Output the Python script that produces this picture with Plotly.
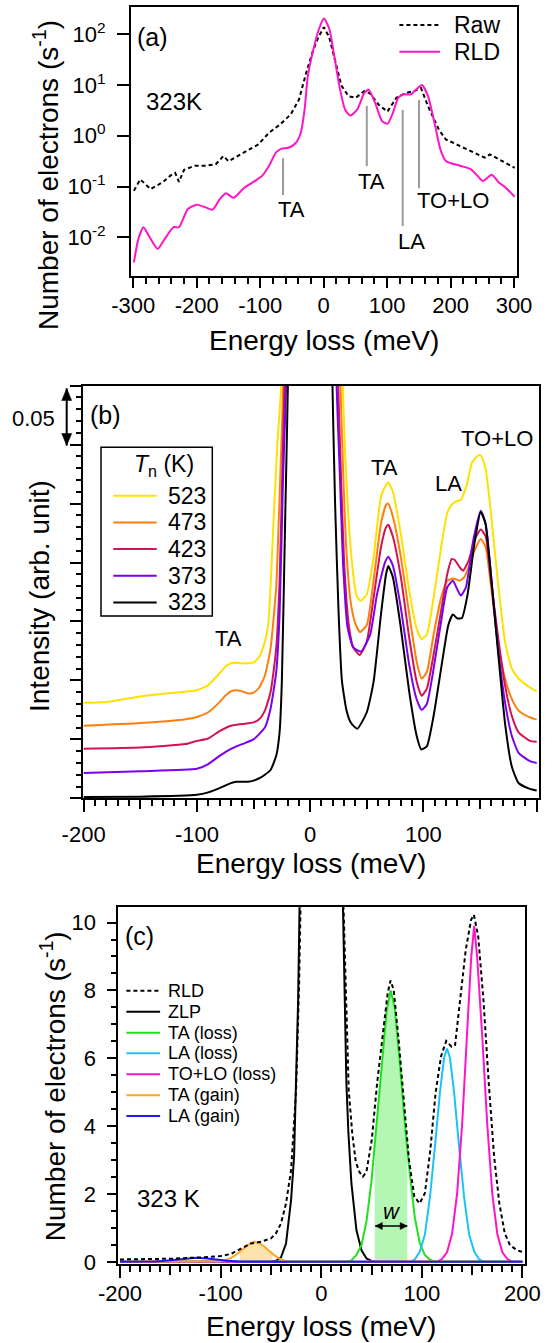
import numpy as np
import plotly.graph_objects as go

W, H = 554, 1343
FONT = "Liberation Sans, Arial, Helvetica, sans-serif"

# ---------------- Panel (a): log-scale spectra at 323 K ----------------
a_rld_x = [-299, -292, -284, -275.5, -261.6, -250.4, -236.5, -228, -214, -200, -186.4, -175, -164, -154,
           -142, -125, -108, -97, -86, -75, -66.6, -55.5, -44, -36, -30, -25, -16.4, -8, 0.3, 8.6, 17, 25,
           33.7, 42, 53, 64, 71, 81, 92, 100.5, 109, 117.5, 126, 137, 148, 155, 164.6, 175.8, 184, 192.5,
           214.8, 231.6, 242.6, 251, 265, 276, 287, 301]
a_rld_y = [0.0032, 0.0093, 0.0158, 0.0107, 0.0059, 0.0093, 0.0158, 0.0158, 0.036, 0.044, 0.039, 0.035,
           0.056, 0.074, 0.060, 0.095, 0.129, 0.162, 0.257, 0.47, 0.56, 0.58, 0.72, 1.15, 3.3, 14.8, 49,
           120, 204, 132, 36, 9.3, 3.3, 2.5, 3.3, 6.9, 8.1, 4.5, 1.95, 1.72, 2.8, 5.6, 6.6, 6.5, 8.7, 10.0,
           6.0, 1.55, 0.54, 0.32, 0.257, 0.22, 0.162, 0.129, 0.17, 0.12, 0.095, 0.063]
a_raw_x = [-299, -289, -281, -273, -264, -253, -242, -234, -228, -220, -203, -186, -170, -158, -150, -136,
           -119, -103, -86, -69, -52, -39, -27.5, -16.4, -8, 0.3, 8.6, 19.8, 28, 39.3, 50.4, 64, 72.7,
           86.7, 100.5, 114.7, 128, 142.5, 153.5, 164.6, 181.6, 192.5, 214.8, 237, 253.8, 262, 276, 301]
a_raw_y = [0.083, 0.138, 0.112, 0.089, 0.102, 0.123, 0.162, 0.186, 0.123, 0.214, 0.257, 0.257, 0.275,
           0.398, 0.316, 0.398, 0.537, 0.676, 1.15, 1.66, 2.63, 5.13, 17.4, 49, 89, 138, 89, 23.4, 9.8,
           6.0, 5.6, 7.6, 6.9, 4.1, 3.0, 5.6, 6.9, 7.6, 8.7, 3.8, 1.32, 0.85, 0.63, 0.47, 0.37, 0.43,
           0.35, 0.234]
a_mode_names = ["TA", "TA", "LA", "TO+LO"]
a_mode_x = [-64, 68, 124.6, 150.3]
a_mode_top = [0.36, 3.87, 3.22, 5.07]
a_mode_bottom = [0.068, 0.254, 0.0167, 0.093]
a_label_x = [-50.8, 76.2, 138.9, 203.6]
a_label_y = [0.0347, 0.123, 0.0081, 0.0525]
a_xticks = [-300, -200, -100, 0, 100, 200, 300]
a_yticks = [0.01, 0.1, 1, 10, 100]
a_ytext = ["10<sup>-2</sup>", "10<sup>-1</sup>", "10<sup>0</sup>", "10<sup>1</sup>", "10<sup>2</sup>"]

# ---------------- Panel (b): temperature series ----------------
b_temps = [523, 473, 423, 373, 323]
b_colors = ["#ffe100", "#ff7f0e", "#d11450", "#7a00ee", "#000000"]
b_x = {
    523: [-200, -180, -150, -120, -100, -90, -80, -75, -70, -65, -60, -55, -50, -45, -40, -37, -35, -32,
          -29, -25, 0, 28.5, 31, 34, 38, 41, 44.4, 50, 56, 62.5, 67, 69, 73, 80, 87.5, 94, 98.4, 103, 109,
          115.6, 121, 125, 128, 133, 138, 143, 148, 150.6, 155, 159, 165.6, 172, 178, 184, 194, 200],
    473: [-200, -150, -110, -100, -90, -80, -75, -70, -65, -60, -55, -50, -45, -40, -35, -30, -27, -23.5, 0,
          26.5, 29, 32, 36, 40, 44, 50, 56, 62.5, 67, 69, 73, 80, 87.5, 94, 98.4, 103, 109, 115.6, 121,
          125, 128, 132, 136, 140, 145, 150.6, 155, 159, 165.6, 172, 178, 184, 194, 200],
    423: [-200, -150, -110, -100, -90, -80, -70, -60, -50, -45, -40, -35, -30, -27, -24, -22.5, 0, 24.5, 27,
          30, 34, 38, 43.75, 50, 56, 62.5, 67, 69, 73, 80, 87.5, 94, 98.4, 103, 109, 115.6, 121, 125, 128,
          132, 135, 140, 145, 150.6, 155, 159, 165.6, 172, 178, 184, 194, 200],
    373: [-200, -150, -100, -90, -80, -70, -60, -50, -40, -35, -30, -27, -24, -21, 0, 23, 26, 29, 33, 38,
          45, 53, 59, 66, 69, 73, 80, 87.5, 94, 98.4, 103, 109, 115.6, 121, 126, 130, 133, 137.5, 144,
          150.6, 155, 159, 165.6, 172, 178, 184, 194, 200],
    323: [-200, -150, -100, -90, -80, -70, -65, -55, -50, -45, -40, -35, -30, -27, -25, -22, -19.5, 0, 19.5,
          22, 25, 28, 32, 36, 41.6, 50, 56, 62.5, 67, 69, 73, 79.7, 87.5, 94, 98, 103, 109, 115.6, 122,
          126, 130, 134, 139, 145, 150.6, 154.7, 159, 165.6, 172, 178, 184, 194, 200],
}
b_y = {
    523: [0.081, 0.0816, 0.0864, 0.0896, 0.0916, 0.096, 0.106, 0.1116, 0.1145, 0.115, 0.1145, 0.1145,
          0.1153, 0.120, 0.133, 0.147, 0.179, 0.242, 0.30, 0.36, 2.0, 0.36, 0.29, 0.235, 0.19, 0.172,
          0.1674, 0.173, 0.2046, 0.256, 0.266, 0.268, 0.260, 0.2246, 0.176, 0.144, 0.135, 0.139, 0.170,
          0.213, 0.242, 0.249, 0.2514, 0.2533, 0.265, 0.285, 0.2905, 0.291, 0.279, 0.2475, 0.185, 0.133,
          0.110, 0.1016, 0.094, 0.0907],
    473: [0.0615, 0.0638, 0.067, 0.069, 0.073, 0.0816, 0.087, 0.0907, 0.0916, 0.0907, 0.089, 0.0896, 0.094,
          0.104, 0.127, 0.179, 0.256, 0.36, 2.0, 0.36, 0.28, 0.21, 0.165, 0.148, 0.141, 0.147, 0.185,
          0.233, 0.249, 0.250, 0.239, 0.205, 0.156, 0.116, 0.1016, 0.107, 0.139, 0.170, 0.1846, 0.186,
          0.186, 0.1846, 0.1875, 0.196, 0.210, 0.220, 0.213, 0.185, 0.133, 0.1016, 0.0844, 0.0744,
          0.0687, 0.0667],
    423: [0.042, 0.043, 0.046, 0.0487, 0.0507, 0.057, 0.0615, 0.063, 0.0644, 0.067, 0.0744, 0.090, 0.127,
          0.185, 0.30, 0.36, 2.0, 0.36, 0.28, 0.20, 0.148, 0.128, 0.1216, 0.133, 0.170, 0.213, 0.230,
          0.232, 0.222, 0.188, 0.136, 0.099, 0.087, 0.093, 0.122, 0.159, 0.190, 0.203, 0.2018, 0.196,
          0.193, 0.2018, 0.219, 0.228, 0.222, 0.190, 0.139, 0.096, 0.070, 0.056, 0.0487, 0.048],
    373: [0.0215, 0.023, 0.025, 0.029, 0.036, 0.042, 0.046, 0.050, 0.060, 0.076, 0.107, 0.156, 0.27, 0.36,
          2.0, 0.36, 0.28, 0.20, 0.145, 0.128, 0.1245, 0.139, 0.173, 0.200, 0.205, 0.1975, 0.162, 0.113,
          0.084, 0.075, 0.080, 0.110, 0.150, 0.179, 0.1845, 0.177, 0.172, 0.179, 0.219, 0.244, 0.233,
          0.196, 0.130, 0.0816, 0.053, 0.0386, 0.0315, 0.030],
    323: [0.001, 0.0014, 0.003, 0.005, 0.0086, 0.0129, 0.014, 0.014, 0.015, 0.017, 0.020, 0.024, 0.036,
          0.056, 0.099, 0.24, 0.36, 2.0, 0.36, 0.25, 0.16, 0.10, 0.075, 0.064, 0.059, 0.073, 0.099, 0.156,
          0.19, 0.197, 0.1875, 0.147, 0.090, 0.053, 0.0415, 0.044, 0.070, 0.110, 0.147, 0.156, 0.1525,
          0.153, 0.173, 0.216, 0.243, 0.233, 0.196, 0.127, 0.064, 0.027, 0.013, 0.008, 0.0066],
}
b_label_names = ["TA", "TA", "LA", "TO+LO"]
b_label_x = [-72, 66, 122.4, 164.8]
b_label_y = [0.1353, 0.2804, 0.267, 0.3056]
b_xticks = [-200, -100, 0, 100, 200]
b_xmid_ticks = [-150, -50, 50, 150]

# ---------------- Panel (c): decomposition at 323 K ----------------
c_rld_x = [-200, -150, -120, -100, -90, -80, -70, -60, -50, -45, -40, -35, -30, -25, -22, -20.5, 0, 22,
           27.3, 30.8, 34.3, 37.9, 41.4, 44.9, 50.2, 55.5, 60.8, 66, 68.9, 72, 76.6, 82, 87.2, 92.5, 97.8,
           103, 108.4, 113.6, 119, 124.2, 129.5, 133, 138.3, 143.6, 148.9, 151.7, 156, 161.2, 166.5, 171.8,
           177, 182.4, 187.6, 194.7, 200]
c_rld_y = [0.07, 0.09, 0.13, 0.17, 0.23, 0.39, 0.54, 0.59, 0.69, 0.84, 1.13, 1.72, 2.70, 5.06, 8.2, 10.6,
           200, 10.6, 5.06, 3.79, 2.95, 2.65, 2.51, 2.65, 3.59, 5.26, 6.64, 7.92, 8.29, 8.01, 6.64, 4.67,
           3.0, 1.92, 1.72, 2.02, 3.29, 4.97, 6.05, 6.51, 6.34, 6.39, 7.72, 9.19, 10.08, 10.23, 9.59, 7.72,
           5.26, 3.10, 1.72, 0.84, 0.49, 0.34, 0.29]
c_zlp_x = [-200, -60, -50, -45, -40, -35, -30, -27, -25, -23, -21.5, 0, 21.5, 23, 25, 27, 30, 35, 40, 45,
           50, 55, 200]
c_zlp_y = [0, 0, 0, 0.03, 0.13, 0.54, 1.82, 3.1, 5.06, 7.7, 10.6, 200, 10.6, 7.7, 5.26, 3.79, 2.31, 0.93,
           0.34, 0.1, 0.02, 0, 0]
c_ta_loss_x = [-200, 25, 30, 35, 40, 45, 50, 55, 60, 65, 69, 73, 78, 83, 88, 93, 98, 103, 108, 113, 200]
c_ta_loss_y = [0, 0, 0.04, 0.2, 0.5, 1.2, 2.4, 4.05, 5.85, 7.4, 8.0, 7.5, 5.9, 4.1, 2.6, 1.3, 0.55, 0.2,
               0.06, 0, 0]
c_la_loss_x = [-200, 88, 93, 98, 103, 108, 113, 118, 122, 125, 128, 132, 137, 142, 147, 152, 157, 162, 200]
c_la_loss_y = [0, 0, 0.07, 0.3, 0.8, 1.9, 3.4, 5.0, 6.0, 6.29, 6.0, 5.0, 3.4, 1.9, 0.8, 0.3, 0.07, 0, 0]
c_tolo_loss_x = [-200, 115, 120, 125, 130, 135, 140, 145, 149, 152, 155, 160, 165, 170, 175, 180, 185,
                 190, 200]
c_tolo_loss_y = [0, 0, 0.08, 0.28, 0.82, 2.0, 4.04, 6.65, 8.96, 9.9, 8.96, 6.65, 4.04, 2.0, 0.82, 0.28,
                 0.08, 0, 0]
c_ta_gain_x = [-200, -105, -100, -95, -90, -85, -80, -75, -70, -66, -62, -57, -52, -47, -42, -37, -32,
               -27, 200]
c_ta_gain_y = [0, 0, 0.02, 0.05, 0.11, 0.2, 0.32, 0.45, 0.56, 0.59, 0.56, 0.46, 0.33, 0.2, 0.1, 0.04,
               0.01, 0, 0]
c_la_gain_x = [-200, -175, -165, -155, -145, -135, -124, -113, -103, -93, -83, -73, 200]
c_la_gain_y = [0, 0, 0.01, 0.03, 0.06, 0.1, 0.12, 0.1, 0.06, 0.03, 0.01, 0, 0]
c_w_bounds = [53.1, 85.5]        # shaded width w of TA (loss)
c_gain_bounds = [-81.0, -48.4]   # shaded TA (gain)
c_names = ["RLD", "ZLP", "TA (loss)", "LA (loss)", "TO+LO (loss)", "TA (gain)", "LA (gain)"]
c_colors = ["#000000", "#000000", "#1fe01f", "#18c4f5", "#ff14c8", "#ffa51a", "#1a1aff"]

# ---------------- helpers ----------------
def px(x, y):
    return x / W, 1 - y / H

def dom_x(l, r):
    return [l / W, r / W]

def dom_y(t, b):
    return [1 - b / H, 1 - t / H]

tickfont = dict(family=FONT, size=22, color="black")

def axis(**kw):
    d = dict(showline=True, linecolor="black", linewidth=2, mirror=True, ticks="outside",
             tickcolor="black", tickwidth=1.5, showgrid=False, zeroline=False, tickfont=tickfont)
    d.update(kw)
    return d

def minor(dt, ln):
    return dict(dtick=dt, tick0=0, ticklen=ln, ticks="outside", tickcolor="black", tickwidth=1.5,
                showgrid=False)

fig = go.Figure()

# panel (a)
fig.add_trace(go.Scatter(x=a_raw_x, y=a_raw_y, mode="lines", xaxis="x", yaxis="y",
                         line=dict(color="black", width=2, dash="4px,3px")))
fig.add_trace(go.Scatter(x=a_rld_x, y=a_rld_y, mode="lines", xaxis="x", yaxis="y",
                         line=dict(color="#ff14c8", width=2, shape="spline", smoothing=0.6)))
for mx, mt, mb in zip(a_mode_x, a_mode_top, a_mode_bottom):
    fig.add_trace(go.Scatter(x=[mx, mx], y=[mb, mt], mode="lines", xaxis="x", yaxis="y",
                             line=dict(color="#9a9a9a", width=2)))

# panel (b)
for t, c in zip(b_temps, b_colors):
    fig.add_trace(go.Scatter(x=b_x[t], y=b_y[t], mode="lines", xaxis="x2", yaxis="y2",
                             line=dict(color=c, width=2, shape="spline", smoothing=0.5)))

# panel (c) fills
wx = np.linspace(c_w_bounds[0], c_w_bounds[1], 40)
fig.add_trace(go.Scatter(x=wx, y=np.interp(wx, c_ta_loss_x, c_ta_loss_y), mode="lines", fill="tozeroy",
                         fillcolor="#b4f7b4", line=dict(width=0), xaxis="x3", yaxis="y3"))
gx = np.linspace(c_gain_bounds[0], c_gain_bounds[1], 40)
fig.add_trace(go.Scatter(x=gx, y=np.interp(gx, c_ta_gain_x, c_ta_gain_y), mode="lines", fill="tozeroy",
                         fillcolor="#fde2ae", line=dict(width=0), xaxis="x3", yaxis="y3"))
comps = [(c_zlp_x, c_zlp_y), (c_ta_loss_x, c_ta_loss_y), (c_la_loss_x, c_la_loss_y),
         (c_tolo_loss_x, c_tolo_loss_y), (c_ta_gain_x, c_ta_gain_y), (c_la_gain_x, c_la_gain_y)]
for (cx, cy), col in zip(comps, c_colors[1:]):
    fig.add_trace(go.Scatter(x=cx, y=cy, mode="lines", xaxis="x3", yaxis="y3",
                             line=dict(color=col, width=2)))
fig.add_trace(go.Scatter(x=c_rld_x, y=c_rld_y, mode="lines", xaxis="x3", yaxis="y3",
                         line=dict(color="black", width=2, dash="4px,3px")))

# invisible anchor traces for the mid-tick overlay axes
fig.add_trace(go.Scatter(x=[0], y=[0.5], mode="markers", marker=dict(opacity=0), xaxis="x4", yaxis="y2",
                         hoverinfo="skip"))
fig.add_trace(go.Scatter(x=[0], y=[5], mode="markers", marker=dict(opacity=0), xaxis="x5", yaxis="y3",
                         hoverinfo="skip"))

b_dom = dom_x(83.3, 539.3)
b_rng = [-200.3, 202.3]
c_dom = dom_x(117.5, 525.3)
c_rng = [-202.5, 202.8]

fig.update_layout(
    xaxis=axis(domain=dom_x(131, 517.3), range=[-303.6, 305.2], anchor="y", tickmode="array",
               tickvals=a_xticks, ticktext=[str(v) for v in a_xticks], ticklen=10, ticklabelstandoff=-1,
               minor=minor(20, 6)),
    yaxis=axis(domain=dom_y(7.3, 276), type="log", range=[-2.763, 2.532], anchor="x", tickmode="array",
               tickvals=a_yticks, ticktext=a_ytext, ticklen=12, ticklabelstandoff=7),
    xaxis2=axis(domain=b_dom, range=b_rng, anchor="y2", tickmode="array",
                tickvals=b_xticks, ticktext=[str(v) for v in b_xticks], ticklen=12, ticklabelstandoff=3,
                minor=minor(10, 6)),
    xaxis4=dict(domain=b_dom, range=b_rng, anchor="y2", overlaying="x2", side="bottom", tickmode="array",
                tickvals=b_xmid_ticks, ticks="outside", ticklen=10, tickwidth=1.5, tickcolor="black",
                showticklabels=False, showline=False, showgrid=False, zeroline=False),
    yaxis2=axis(domain=dom_y(385.7, 798.3), range=[0, 0.35], anchor="x2", dtick=0.05, tick0=0,
                ticklen=11, showticklabels=False, minor=minor(0.01, 5)),
    xaxis3=axis(domain=c_dom, range=c_rng, anchor="y3", tickmode="array",
                tickvals=b_xticks, ticktext=[str(v) for v in b_xticks], ticklen=12, ticklabelstandoff=-3,
                minor=minor(10, 6)),
    xaxis5=dict(domain=c_dom, range=c_rng, anchor="y3", overlaying="x3", side="bottom", tickmode="array",
                tickvals=b_xmid_ticks, ticks="outside", ticklen=10, tickwidth=1.5, tickcolor="black",
                showticklabels=False, showline=False, showgrid=False, zeroline=False),
    yaxis3=axis(domain=dom_y(907.3, 1263.5), range=[-0.05, 10.45], anchor="x3", dtick=2, tick0=0,
                ticklen=9, ticklabelstandoff=6, minor=minor(0.5, 5)),
)

ann = []
shapes = []

def text(x, y, s, size=22, anchor="center", angle=0, **kw):
    X, Y = px(x, y)
    ann.append(dict(x=X, y=Y, xref="paper", yref="paper", text=s, showarrow=False, xanchor=anchor,
                    yanchor="middle", textangle=angle, font=dict(family=FONT, size=size, color="black"),
                    **kw))

def double_arrow(x0, y0, x1, y1, head_len, head_w, width):
    """Double-headed arrow drawn with paper-pixel coordinates."""
    P0 = px(x0, y0)
    P1 = px(x1, y1)
    dx, dy = x1 - x0, y1 - y0
    L = (dx * dx + dy * dy) ** 0.5
    ux, uy = dx / L, dy / L
    nx, ny = -uy, ux
    shapes.append(dict(type="line", xref="paper", yref="paper", x0=P0[0], y0=P0[1], x1=P1[0], y1=P1[1],
                       line=dict(color="black", width=width)))
    for (tx, ty, sgn) in [(x0, y0, 1), (x1, y1, -1)]:
        bx, by = tx + sgn * ux * head_len, ty + sgn * uy * head_len
        pts = [(tx, ty), (bx + nx * head_w / 2, by + ny * head_w / 2), (bx - nx * head_w / 2, by - ny * head_w / 2)]
        path = "M " + " L ".join("{:.6f},{:.6f}".format(*px(a, b)) for a, b in pts) + " Z"
        shapes.append(dict(type="path", xref="paper", yref="paper", path=path, fillcolor="black",
                           line=dict(color="black", width=0.5)))

# axis titles
text(324, 340, "Energy loss (meV)", 28)
text(46, 175, "Number of electrons (s<sup>-1</sup>)", 28, angle=-90)
text(311.3, 863, "Energy loss (meV)", 28)
text(40, 596, "Intensity (arb. unit)", 28, angle=-90)
text(321, 1326, "Energy loss (meV)", 28)
text(53.3, 1086, "Number of electrons (s<sup>-1</sup>)", 28, angle=-90)

# panel (a) annotations
text(152.5, 37, "(a)", 25)
text(174, 102, "323K", 24)
for n, lx, ly in zip(a_mode_names, a_label_x, a_label_y):
    ann.append(dict(x=lx, y=np.log10(ly), xref="x", yref="y", text=n, showarrow=False,
                    font=dict(family=FONT, size=22, color="black")))
for yy, dash, col, name in [(25, "dot", "black", "Raw"), (51.7, "solid", "#ff14c8", "RLD")]:
    x0, y0 = px(399.4, yy)
    x1, _ = px(440, yy)
    shapes.append(dict(type="line", xref="paper", yref="paper", x0=x0, x1=x1, y0=y0, y1=y0,
                       line=dict(color=col, width=2, dash="4px,3px" if dash == "dot" else "solid")))
    text(451.5, yy, name, 23, anchor="left")

# panel (b) annotations
text(105, 415, "(b)", 25)
text(33, 418, "0.05", 22)
double_arrow(66.7, 388.5, 66.7, 445.5, 12, 10, 2)
for n, lx, ly in zip(b_label_names, b_label_x, b_label_y):
    ann.append(dict(x=lx, y=ly, xref="x2", yref="y2", text=n, showarrow=False,
                    font=dict(family=FONT, size=22, color="black")))
bx0, by0 = px(101, 447.3)
bx1, by1 = px(212.3, 616)
shapes.append(dict(type="rect", xref="paper", yref="paper", x0=bx0, x1=bx1, y0=by0, y1=by1,
                   line=dict(color="black", width=1.5), fillcolor="white", layer="above"))
text(164, 466, "<i>T</i><sub>n</sub> (K)", 23)
for i, (t, c) in enumerate(zip(b_temps, b_colors)):
    yy = 495.7 + i * 26.7
    x0, y0 = px(113.3, yy)
    x1, _ = px(156.7, yy)
    shapes.append(dict(type="line", xref="paper", yref="paper", x0=x0, x1=x1, y0=y0, y1=y0,
                       line=dict(color=c, width=2), layer="above"))
    text(165.5, yy, str(t), 23, anchor="left")

# panel (c) annotations
text(139.5, 936, "(c)", 25)
text(168.4, 1198.3, "323 K", 24)
text(392.3, 1211.7, "<i>w</i>", 22)
double_arrow(375.3, 1226, 407.2, 1226, 7, 7, 1.5)
c_rows = [990.7, 1011.7, 1032.7, 1053.3, 1074.3, 1095.3, 1116]
for name, col, yy in zip(c_names, c_colors, c_rows):
    x0, y0 = px(126.4, yy)
    x1, _ = px(160.1, yy)
    shapes.append(dict(type="line", xref="paper", yref="paper", x0=x0, x1=x1, y0=y0, y1=y0,
                       line=dict(color=col, width=2, dash="4px,3px" if name == "RLD" else "solid")))
    text(166, yy, name, 18, anchor="left")

fig.update_layout(
    width=W, height=H, margin=dict(l=0, r=0, t=0, b=0, pad=0, autoexpand=False),
    paper_bgcolor="white", plot_bgcolor="white", showlegend=False,
    annotations=ann, shapes=shapes, font=dict(family=FONT, color="black"),
)

fig.write_html("out.html")
